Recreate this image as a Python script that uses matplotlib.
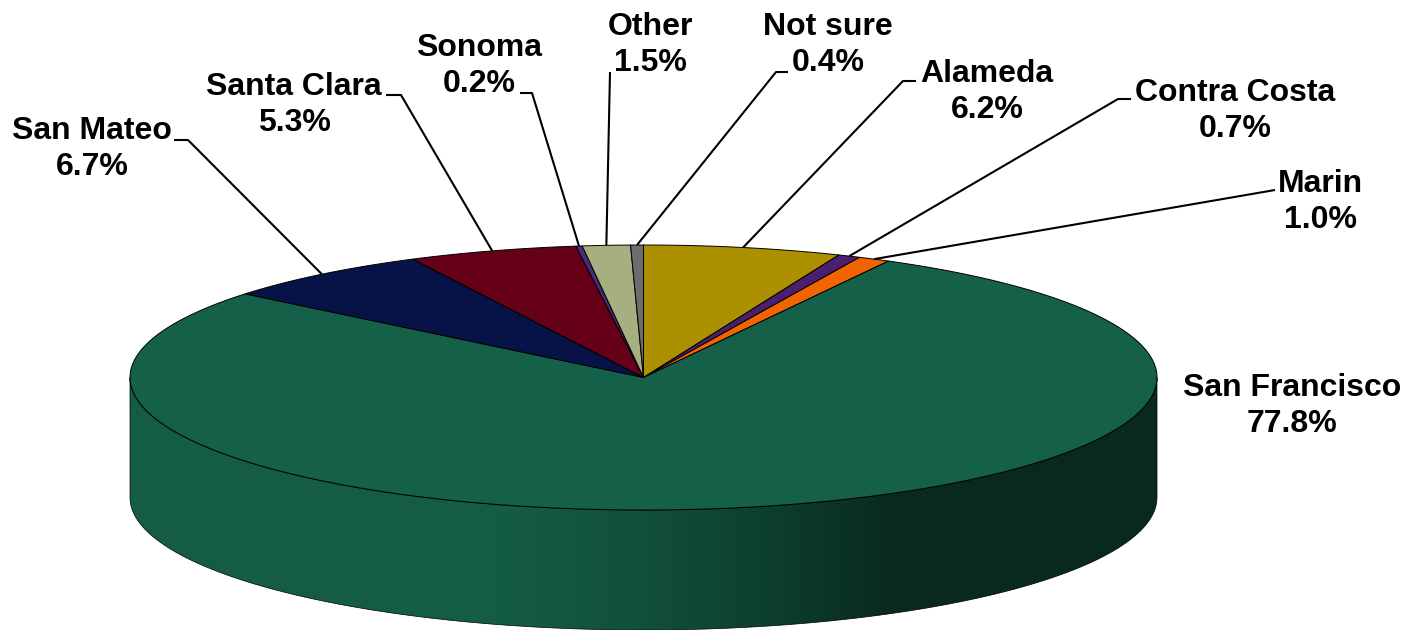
import numpy as np
import matplotlib.pyplot as plt
from matplotlib.colors import LinearSegmentedColormap
from matplotlib.patches import PathPatch
from matplotlib.path import Path

# Data, clockwise from the top of the pie
categories = ['Alameda', 'Contra Costa', 'Marin', 'San Francisco', 'San Mateo',
              'Santa Clara', 'Sonoma', 'Other', 'Not sure']
values = [6.2, 0.7, 1.0, 77.8, 6.7, 5.3, 0.2, 1.5, 0.4]
colors = ['#AD9000', '#4B1F6F', '#F26400', '#156048', '#071346',
          '#660018', '#4A2A7A', '#A6AF7F', '#6D6D6D']

# label centre and leader elbow, in pixels
label_pos = {'Alameda': (987, 92), 'Contra Costa': (1235, 111), 'Marin': (1320, 202),
             'San Francisco': (1292, 406), 'San Mateo': (92, 149), 'Santa Clara': (294, 105),
             'Sonoma': (479, 66), 'Other': (650, 45), 'Not sure': (828, 45)}
leaders = {'Alameda': [(903, 81), (916, 81)], 'Contra Costa': [(1118, 99), (1131, 99)],
           'Marin': [(1275, 190)], 'San Mateo': [(188, 140), (174, 140)],
           'Santa Clara': [(401, 95), (386, 95)], 'Sonoma': [(532, 93), (520, 93)],
           'Other': [(610, 72)], 'Not sure': [(776, 72), (788, 72)]}

cx, cy = 643.5, 377.5
rx, ry = 513.5, 132.5
depth = 120


def rim(frac):
    a = 2 * np.pi * np.asarray(frac)
    return cx + rx * np.sin(a), cy - ry * np.cos(a)


plt.rcParams['font.family'] = ['Liberation Sans', 'DejaVu Sans']
fig = plt.figure(figsize=(14.1, 6.3), dpi=100)
ax = fig.add_axes([0, 0, 1, 1])
ax.set_xlim(0, 1410)
ax.set_ylim(630, 0)
ax.axis('off')

# Side wall, front half of the ellipse
t = np.linspace(0.25, 0.75, 300)
xs, ys = rim(t)
side = np.vstack([np.column_stack([xs, ys]),
                  np.column_stack([xs[::-1], ys[::-1] + depth])])
clip = PathPatch(Path(np.vstack([side, side[0]])), transform=ax.transData,
                 fc='none', ec='black', lw=0.5, zorder=2)
ax.add_patch(clip)
shade = LinearSegmentedColormap.from_list('shade', [
    (0.0, '#155C45'), (0.36, '#155C45'), (0.5, '#11503C'),
    (0.62, '#0D3F2E'), (0.75, '#09291F'), (1.0, '#09291F')])
img = ax.imshow(np.linspace(0, 1, 512).reshape(1, -1), cmap=shade, aspect='auto',
                extent=[cx - rx, cx + rx, cy + ry + depth, cy - ry], zorder=1)
img.set_clip_path(clip)
ax.set_xlim(0, 1410)
ax.set_ylim(630, 0)

# Top face
total = sum(values)
start = 0.0
mids = {}
for name, val, col in zip(categories, values, colors):
    share = val / total
    frac = np.linspace(start, start + share, max(int(val * 8), 12))
    xs, ys = rim(frac)
    ax.fill(np.r_[cx, xs], np.r_[cy, ys], facecolor=col, edgecolor='black',
            linewidth=0.7, joinstyle='round', zorder=3)
    mids[name] = start + share / 2
    start += share

# Labels and leader lines
for name, val in zip(categories, values):
    lx, ly = label_pos[name]
    ax.text(lx, ly, f'{name}\n{val:.1f}%', ha='center', va='center', fontsize=23,
            fontweight='bold', color='black', linespacing=1.27, zorder=5)
    if name in leaders:
        x0, y0 = rim(mids[name])
        pts = [(float(x0), float(y0))] + leaders[name]
        ax.plot(*zip(*pts), color='black', lw=1.5, solid_capstyle='butt', zorder=4)

fig.savefig('out.png', dpi=100, facecolor='white')
